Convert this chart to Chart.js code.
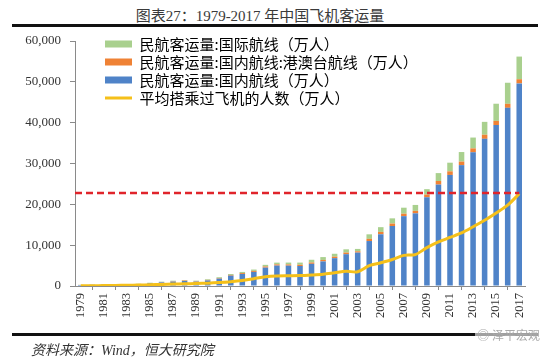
<!DOCTYPE html>
<html>
<head>
<meta charset="utf-8">
<script src="https://cdn.jsdelivr.net/npm/chart.js@4.4.1/dist/chart.umd.min.js"></script>
<style>
  html, body { margin: 0; padding: 0; background: #fff; }
  #wrap { position: relative; width: 550px; height: 361px; overflow: hidden; background: #fff; }
  #title { position: absolute; left: 0; width: 520px; top: 4px; text-align: center;
           font: 15px "Liberation Serif", "Noto Sans CJK SC", serif; color: #3a3a3a; }
  .rule { position: absolute; left: 12px; width: 526px; height: 3px; background: #111; }
  #foot { position: absolute; left: 31px; top: 339px; font: italic 14px "Liberation Serif", "Noto Sans CJK SC", serif; color: #333; }
  #wm { position: absolute; right: 8px; top: 326px; font: 12px "Noto Sans CJK SC", sans-serif; color: #aaa; background: rgba(255,255,255,0.6); padding: 0 2px; }
  canvas { position: absolute; left: 0; top: 0; }
</style>
</head>
<body>
<div id="wrap">
  <div id="title">图表27：1979-2017 年中国飞机客运量</div>
  <div class="rule" style="top:24px"></div>
  <canvas id="c" width="550" height="361"></canvas>
  <div class="rule" style="top:333px"></div>
  <div id="foot">资料来源：Wind，恒大研究院</div>
  <div id="wm">◎ 泽平宏观</div>
</div>
<script>
// ---- data (万人) ----
const years = ['1979','1980','1981','1982','1983','1984','1985','1986','1987','1988','1989','1990',
  '1991','1992','1993','1994','1995','1996','1997','1998','1999','2000','2001','2002','2003','2004',
  '2005','2006','2007','2008','2009','2010','2011','2012','2013','2014','2015','2016','2017'];

const domestic = [250,285,330,370,320,460,660,880,1070,1220,1060,1360,
  1800,2530,2950,3450,4500,5000,4980,4900,5430,6025,6818,7789,8178,11012,
  12667,14693,17104,17800,21732,24838,27199,29600,32742,36040,39411,43634,49611];

const hkMacauTaiwan = [20,25,30,30,30,40,60,80,100,110,110,130,
  150,180,220,250,280,290,300,300,330,358,370,390,320,533,
  580,600,600,600,661,880,882,870,958,1004,1020,980,1027];

const international = [28,33,41,45,41,54,77,97,130,142,133,160,
  198,236,275,326,402,435,460,535,664,697,706,805,581,1111,
  1160,1275,1472,1451,1320,1931,2118,2336,2655,3155,4207,5162,5545];

const avgFlown = [40,70,100,140,170,220,300,380,460,540,600,700,
  850,1050,1350,1800,2250,2450,2500,2550,2700,2900,3250,3600,3500,5000,
  5700,6500,7500,7700,9400,10800,11900,13000,14500,16100,17900,19800,22600];

const refLineValue = 22800;
const yTicks = [0,10000,20000,30000,40000,50000,60000];

const labelIntl = '民航客运量:国际航线（万人）';
const labelHK = '民航客运量:国内航线:港澳台航线（万人）';
const labelDom = '民航客运量:国内航线（万人）';
const labelAvg = '平均搭乘过飞机的人数（万人）';

const legendOrder = [labelIntl, labelHK, labelDom, labelAvg];

const refLinePlugin = {
  id: 'refLine',
  afterDatasetsDraw(chart) {
    const {ctx, chartArea, scales: {x, y}} = chart;
    const yPix = y.getPixelForValue(refLineValue);
    const xEnd = x.getPixelForValue(years.length - 1);
    ctx.save();
    ctx.strokeStyle = '#e0242b';
    ctx.lineWidth = 2.5;
    ctx.setLineDash([7, 4]);
    ctx.beginPath();
    ctx.moveTo(chartArea.left, yPix);
    ctx.lineTo(xEnd, yPix);
    ctx.stroke();
    ctx.restore();
  }
};

const legendShift = {
  id: 'legendShift',
  afterLayout(chart) {
    const lg = chart.legend;
    if (!lg) return;
    lg.left = chart.chartArea.left + 27;
    lg.top = chart.chartArea.top - 7.5;
  }
};

const barCommon = { type: 'bar', stack: 's', order: 1, borderWidth: 0, barPercentage: 0.48, categoryPercentage: 1.0, pointStyle: 'rect' };

new Chart(document.getElementById('c'), {
  data: {
    labels: years,
    datasets: [
      Object.assign({}, barCommon, { label: labelDom, data: domestic, backgroundColor: '#4f83c8' }),
      Object.assign({}, barCommon, { label: labelHK, data: hkMacauTaiwan, backgroundColor: '#ef8235' }),
      Object.assign({}, barCommon, { label: labelIntl, data: international, backgroundColor: '#a9d08e' }),
      { type: 'line', label: labelAvg, data: avgFlown, order: 0, borderColor: '#f5c01a', backgroundColor: '#f5c01a',
        borderWidth: 3, pointRadius: 0, tension: 0.3, fill: false, pointStyle: 'line' }
    ]
  },
  options: {
    responsive: false,
    animation: false,
    devicePixelRatio: 1,
    layout: { padding: { left: 15, right: 25, top: 41, bottom: 0 } },
    plugins: {
      title: { display: false },
      tooltip: { enabled: false },
      legend: {
        position: 'chartArea',
        align: 'start',
        labels: {
          usePointStyle: true,
          pointStyleWidth: 27,
          boxHeight: 7,
          padding: 3,
          color: '#000',
          font: { family: '"Noto Sans CJK SC", sans-serif', size: 15 },
          sort: (a, b) => legendOrder.indexOf(a.text) - legendOrder.indexOf(b.text)
        }
      }
    },
    scales: {
      x: {
        stacked: true,
        offset: true,
        afterFit(s) { s.height = 75; },
        border: { color: '#8a8a8a', width: 1 },
        grid: { display: true, drawOnChartArea: false, offset: true, tickLength: 4, color: '#8a8a8a' },
        ticks: { autoSkip: true, autoSkipPadding: 3, maxRotation: 90, minRotation: 90, padding: 3,
                 color: '#333', font: { family: '"Liberation Serif", serif', size: 12.5 } }
      },
      y: {
        stacked: true,
        min: 0, max: 60000,
        afterFit(s) { s.width = 60; },
        afterBuildTicks(s) { s.ticks = yTicks.map(v => ({ value: v })); },
        border: { color: '#8a8a8a', width: 1 },
        grid: { display: true, drawOnChartArea: false, tickLength: 5, color: '#8a8a8a' },
        ticks: { padding: 9, color: '#333', font: { family: '"Liberation Serif", serif', size: 13 },
                 callback: v => v.toLocaleString('en-US') }
      }
    }
  },
  plugins: [refLinePlugin, legendShift]
});
</script>
</body>
</html>
